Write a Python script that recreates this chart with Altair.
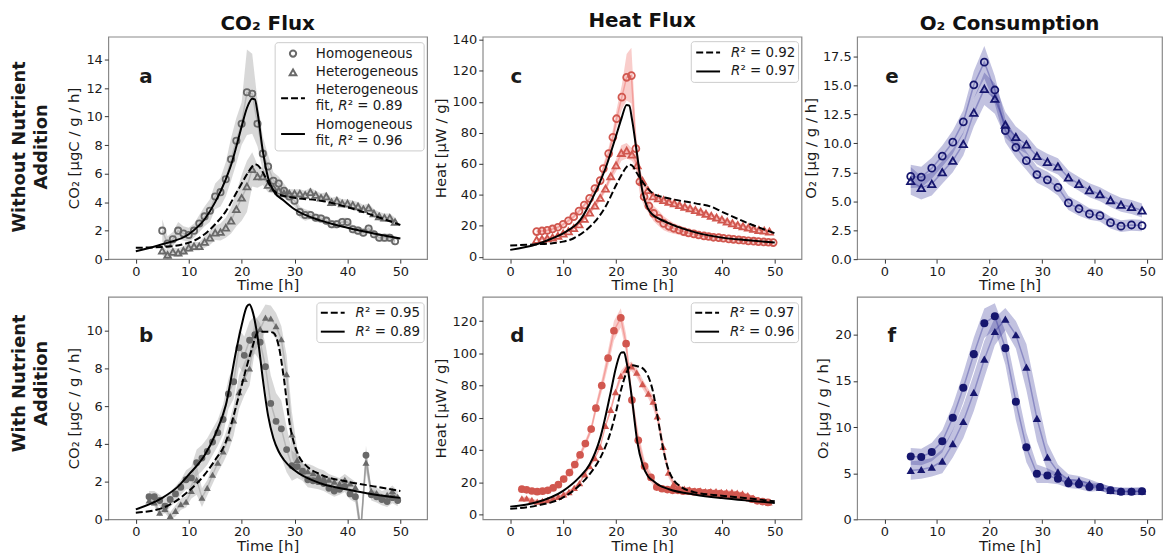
import altair as alt
import pandas as pd

FONT = "DejaVu Sans"

# ======================= DATA =======================
time_ticks = [0, 10, 20, 30, 40, 50]

# ---- (a) CO2 flux, without nutrient addition ----
a_time = [5, 6, 7, 8, 9, 10, 11, 12, 13, 14, 15, 16, 17, 18, 19, 20, 21, 22, 23, 24, 25, 26, 27,
          28, 29, 30, 31, 32, 33, 34, 35, 36, 37, 38, 39, 40, 41, 42, 43, 44, 45, 46, 47, 48, 49]
a_hom = [2.0, 1.1, 1.4, 2.0, 1.8, 1.7, 2.0, 2.5, 3.0, 3.4, 4.4, 4.7, 5.6, 7.0, 8.3, 9.5, 11.7, 11.6, 9.5,
         7.4, 6.5, 5.5, 5.3, 4.8, 4.4, 4.1, 3.3, 3.1, 3.1, 2.9, 2.85, 2.7, 2.45, 2.45, 2.6, 2.6, 2.1, 2.0,
         1.85, 2.15, 1.75, 1.5, 1.5, 1.5, 1.25]
a_hom_sd = [0.8, 0.5, 0.5, 0.6, 0.5, 0.5, 0.5, 0.6, 0.7, 0.8, 0.9, 1.0, 1.2, 1.5, 1.6, 1.5, 3.0, 2.8, 1.6,
            1.2, 0.8, 0.6, 0.5, 0.5, 0.4, 0.4, 0.4, 0.4, 0.3, 0.3, 0.3, 0.3, 0.3, 0.3, 0.3, 0.3, 0.3, 0.3,
            0.3, 0.3, 0.3, 0.3, 0.3, 0.3, 0.3]
a_het = [0.6, 0.3, 0.5, 0.45, 0.6, 0.8, 0.9, 0.9, 1.2, 1.5, 1.85, 1.9, 2.2, 2.7, 3.5, 4.3, 5.1, 6.3, 5.8,
         5.8, 5.2, 5.0, 4.8, 4.6, 4.6, 4.6, 4.6, 4.5, 4.7, 4.5, 4.3, 4.4, 4.0, 4.1, 3.9, 3.9, 3.8, 3.7,
         3.5, 3.6, 3.2, 3.0, 2.9, 2.9, 2.6]
a_het_sd = [0.3, 0.3, 0.3, 0.3, 0.3, 0.3, 0.3, 0.3, 0.4, 0.5, 0.5, 0.6, 0.7, 0.9, 1.2, 1.6, 1.8, 1.2, 0.8,
            0.6, 0.5, 0.4, 0.3, 0.3, 0.3, 0.3, 0.3, 0.3, 0.3, 0.3, 0.3, 0.3, 0.3, 0.3, 0.3, 0.3, 0.3, 0.3,
            0.3, 0.3, 0.3, 0.3, 0.3, 0.3, 0.3]
a_fit_hom_t = [0, 5, 10, 13, 15, 17, 18, 19, 20, 21, 22, 22.5, 23, 24, 25, 26, 28, 30, 35, 40, 45, 50]
a_fit_hom = [0.55, 1.05, 1.75, 2.8, 4.0, 5.6, 6.6, 7.9, 9.3, 10.6, 11.25, 11.2, 10.3, 7.6, 5.7, 4.8,
             4.1, 3.5, 2.7, 2.2, 1.8, 1.45]
a_fit_het_t = [0, 5, 10, 13, 15, 17, 19, 20, 21, 22, 22.5, 23, 24, 25, 26, 27, 30, 35, 40, 45, 50]
a_fit_het = [0.8, 0.85, 1.15, 1.75, 2.45, 3.35, 4.65, 5.3, 5.95, 6.5, 6.65, 6.6, 6.1, 5.4, 4.85, 4.55,
             4.3, 4.1, 3.65, 3.05, 2.4]

# ---- (c) Heat flux, without nutrient addition ----
c_hom_t = [5, 6, 7, 8, 9, 10, 11, 12, 13, 14, 15, 16, 17, 17.6, 18.6, 19.4, 20.1, 21.1, 22, 22.9, 23.75,
           24.5, 25.3, 26.2, 27.1, 28.1, 29.0, 30.0, 30.9, 31.9, 32.8, 33.7, 34.7, 35.6, 36.6, 37.5, 38.4,
           39.4, 40.3, 41.3, 42.2, 43.2, 44.1, 45.0, 46.0, 46.9, 47.9, 48.8, 49.7]
c_hom = [16.3, 16.7, 17.1, 18.0, 19.1, 21.0, 23.3, 25.9, 29.5, 33.4, 37.7, 44.1, 49.2, 56.9, 66.6, 77.1,
         89.1, 103, 115.8, 116.9, 69.8, 48.4, 38.8, 32.8, 28.0, 24.8, 21.6, 19.7, 18.4, 17.3, 16.3, 15.4,
         14.8, 14.1, 13.5, 13.1, 12.6, 12.4, 12.0, 11.6, 11.3, 10.9, 10.7, 10.3, 10.1, 9.8, 9.6, 9.4, 9.2]
c_hom_sd = [1.5, 1.5, 1.5, 1.5, 1.5, 1.5, 1.5, 1.5, 1.5, 1.5, 1.5, 2, 2, 3, 4, 5, 6, 8, 15, 18, 12, 8, 6,
            5, 5, 5, 4.5, 4, 3.5, 3, 3, 2.5, 2.5, 2.5, 2, 2, 2, 2, 1.5, 1.5, 1.5, 1.5, 1.5, 1.5, 1.5, 1.5,
            1.5, 1.5, 1.5]
c_het_t = [5, 6, 7, 8, 9, 10, 11, 12, 13, 14, 15, 16, 17, 18, 19, 20, 21, 22, 23, 24, 25, 26, 27,
           28, 29, 30, 31, 32, 33, 34, 35, 36, 37, 38, 39, 40, 41, 42, 43, 44, 45, 46, 47, 48, 49]
c_het = [11, 11.5, 12, 12.5, 13.5, 15, 16.5, 18.5, 21, 24.5, 28.5, 33, 38, 44, 52, 59, 67, 68.5, 66, 59,
         49, 43, 39, 37.7, 36.6, 35.5, 34.5, 33.4, 32.3, 31.3, 30.2, 29.1, 27.8, 26.5, 25.3, 24, 22.7,
         21.6, 20.5, 19.7, 18.8, 18, 17.3, 16.9, 16.3]
c_het_sd = [1, 1, 1, 1, 1, 1, 1, 1, 1, 1, 1.5, 1.5, 2, 2, 3, 4, 5, 5, 4, 3, 2.5, 2, 2, 1.5, 1.5, 1.5,
            1.5, 1.5, 1.5, 1.5, 1.5, 1.5, 1.5, 1.5, 1.5, 1.5, 1.5, 1.5, 1.5, 1.5, 1.5, 1.5, 1.5, 1.5, 1.5]
c_fit_hom_t = [0, 5, 8, 10, 12, 13, 15, 18, 20, 21, 22, 22.5, 23, 24, 25, 26, 27, 28, 30, 35, 40, 45, 50]
c_fit_hom = [4.5, 8.1, 12, 15.2, 19.5, 22.7, 34, 57, 78, 89, 98, 97.5, 89, 65.5, 42, 31.3, 27, 24.8,
             21.6, 15.8, 12.4, 10.7, 9.2]
c_fit_het_t = [0, 5, 8, 10, 12, 14, 16, 18, 20, 21, 22, 22.5, 23, 24, 25, 26, 27, 30, 35, 38, 40, 45, 50]
c_fit_het = [7.3, 8.1, 8.8, 9.8, 12, 16.3, 22.7, 32.3, 46.2, 52.7, 58, 59.5, 59, 53.7, 48.4, 44, 40.9,
             37.7, 34.5, 32.3, 29.1, 21.6, 15.2]

# ---- (e) O2 consumption, without nutrient addition ----
e_time = [5, 7, 9, 11, 13, 15, 17, 19, 21, 23, 25, 27, 29, 31, 33, 35, 37, 39, 41, 43, 45, 47, 49]
e_hom = [7.14, 7.08, 7.85, 8.9, 10.1, 11.85, 15.05, 17.0, 14.6, 11.1, 9.65, 8.5, 7.3, 6.85, 6.2, 4.85,
         4.35, 3.9, 3.75, 3.15, 2.85, 2.95, 2.9]
e_hom_sd = [1.0, 0.9, 0.9, 0.9, 1.0, 1.0, 1.2, 1.4, 1.2, 1.0, 0.9, 0.8, 0.7, 0.7, 0.7, 0.6, 0.6, 0.5,
            0.5, 0.5, 0.5, 0.5, 0.5]
e_het = [6.75, 6.15, 6.5, 7.5, 8.5, 9.95, 12.65, 14.7, 13.85, 11.6, 10.55, 9.9, 8.9, 8.4, 8.0, 7.05,
         6.5, 5.95, 5.6, 5.1, 4.7, 4.5, 4.2]
e_het_sd = [1.2, 1.0, 1.0, 1.0, 1.0, 1.0, 1.2, 1.4, 1.3, 1.1, 0.9, 0.8, 0.7, 0.7, 0.7, 0.6, 0.6, 0.6,
            0.6, 0.6, 0.6, 0.6, 0.6]

# ---- (b) CO2 flux, with nutrient addition ----
b_time = [2.5, 3.5, 4.5, 5.5, 6.5, 7.5, 8.5, 9.5, 10.5, 11.5, 12.5, 13.5, 14.5, 15.5, 16.5, 17.5,
          18.5, 19.5, 20.5, 21.5, 22.5, 23.5, 24.5, 25.5, 26.5, 27.5, 28.5, 29.5, 30.5, 31.5, 32.5,
          33.5, 34.5, 35.5, 36.5, 37.5, 38.5, 39.5, 40.5, 41.5, 42.5, 43.5, 44.5, 45.5, 46.5, 47.5,
          48.5, 49.5]
b_hom = [1.2, 1.2, 1.0, 0.7, 1.05, 1.35, 1.7, 2.1, 2.2, 3.0, 3.25, 3.6, 4.1, 4.6, 5.3, 6.65, 7.3, 9.1,
         8.7, 9.5, 9.8, 9.4, 8.1, 6.15, 5.2, 4.8, 3.7, 2.85, 2.8, 2.55, 2.1, 2.05, 2.0, 1.9, 1.65, 1.5,
         1.6, 1.75, 1.35, 1.2, -0.6, 3.4, 1.3, 1.2, 1.05, 0.95, 1.15, 1.0]
b_hom_sd = [0.3, 0.3, 0.3, 0.4, 0.4, 0.4, 0.4, 0.5, 0.6, 0.7, 0.7, 0.7, 0.7, 0.7, 0.8, 0.8, 0.9, 1.0,
            1.0, 1.0, 1.0, 1.0, 1.2, 1.5, 1.5, 1.5, 1.2, 0.8, 0.6, 0.5, 0.4, 0.4, 0.4, 0.4, 0.3, 0.3,
            0.3, 0.3, 0.3, 0.3, 0.5, 0.5, 0.3, 0.3, 0.3, 0.3, 0.3, 0.3]
b_het = [1.0, 0.9, 0.35, 0.55, 0.18, 0.45, 0.8, 0.93, 1.5, 2.1, 1.15, 1.67, 2.37, 3.0, 3.6, 4.3, 5.25,
         6.75, 7.45, 8.0, 9.75, 10.1, 10.7, 10.65, 10.25, 9.55, 7.7, 4.5, 3.15, 2.55, 2.55, 2.45, 2.3,
         2.2, 2.1, 2.0, 1.9, 2.1, 1.9, 1.7, -0.7, 3.0, 1.5, 1.4, 1.2, 1.3, 1.5, 1.2]
b_het_sd = [0.2, 0.2, 0.2, 0.2, 0.2, 0.3, 0.3, 0.3, 0.4, 0.8, 0.5, 0.4, 0.5, 0.5, 0.6, 0.7, 0.8, 0.9,
            0.9, 0.9, 0.8, 0.8, 0.7, 0.7, 0.7, 0.7, 1.0, 1.2, 0.6, 0.4, 0.4, 0.4, 0.4, 0.4, 0.3, 0.3,
            0.3, 0.3, 0.3, 0.3, 0.5, 0.5, 0.3, 0.3, 0.3, 0.3, 0.3, 0.3]
b_fit_hom_t = [0, 5, 8, 10, 13, 15, 17, 19, 20, 21, 21.5, 22, 23, 24, 25, 26, 27, 28, 30, 35, 40, 45, 50]
b_fit_hom = [0.53, 1.14, 1.75, 2.37, 3.4, 4.5, 6.05, 9.0, 10.3, 11.3, 11.4, 11.1, 9.7, 7.45, 5.5, 4.3,
             3.6, 3.15, 2.6, 1.9, 1.58, 1.32, 1.14]
b_fit_het_t = [0, 5, 10, 13, 15, 17, 19, 20, 21, 22, 23, 24, 25, 26, 27, 28, 29, 30, 31, 32, 35, 40,
               45, 50]
b_fit_het = [0.35, 0.6, 1.5, 2.37, 3.15, 4.1, 6.05, 7.1, 8.15, 9.1, 9.9, 9.95, 9.95, 9.9, 9.2, 7.45,
             5.2, 3.95, 3.25, 2.9, 2.37, 2.0, 1.75, 1.5]

# ---- (d) Heat flux, with nutrient addition ----
d_hom_t = [2.2, 3.1, 4.1, 5.1, 6.1, 7.1, 8.1, 9.1, 10.1, 11.2, 12.2, 13.2, 14.2, 15.3, 16.2, 17.3,
           18.5, 19.6, 20.9, 21.9, 23.0, 24.2, 25.4, 26.6, 27.7, 28.7, 29.7, 30.7, 31.7, 32.7, 33.7,
           34.7, 35.7, 36.7, 37.7, 38.7, 39.7, 40.7, 41.7, 42.7, 43.7, 44.7, 45.7, 46.7, 47.7, 48.7]
d_hom = [15.7, 15.3, 14.6, 14.2, 14.5, 15, 16.5, 18.5, 22, 26, 31, 37, 44, 53, 66, 80, 97, 114, 122,
         106, 71, 46, 30, 23, 17, 16, 15.5, 15, 15, 14.5, 14.5, 14, 14, 13.5, 13.5, 13, 13, 12.5, 12,
         12, 11.5, 10.5, 9.5, 8.5, 8, 7.5]
d_hom_sd = [1, 1, 1, 1, 1, 1, 1, 1, 1, 1.5, 1.5, 2, 2, 2.5, 3, 4, 5, 6, 6, 6, 6, 5, 4, 3, 2, 1.2, 1.2,
            1.2, 1.2, 1.2, 1.2, 1.2, 1.2, 1.2, 1.2, 1.2, 1.2, 1.2, 1.2, 1.2, 1.2, 1.2, 1.2, 1.2, 1.2,
            1.2]
d_het_t = [2.2, 3.1, 4.1, 5.1, 6.1, 7.1, 8.1, 9.1, 10.1, 11.1, 12.1, 13.1, 14.1, 15.0, 16.0, 17.0,
           18.0, 19.0, 19.9, 20.9, 21.9, 22.9, 23.9, 25.0, 26.1, 27.0, 27.8, 28.9, 29.9, 30.9, 31.9,
           32.9, 33.9, 34.9, 35.9, 36.9, 37.9, 38.9, 39.9, 40.9, 41.9, 42.9, 43.9, 44.9, 45.9, 46.9,
           47.9, 48.9]
d_het = [10, 10, 9, 8, 8.5, 9, 10, 11, 12.5, 14, 16.5, 19.5, 25, 30, 35, 42, 55, 65, 76, 86, 90, 92,
         88, 81, 75, 70, 61, 42, 26, 19, 17, 16, 15.5, 15, 15, 14.5, 14.5, 14.5, 14, 14, 14, 13.5, 13,
         12, 10.5, 9, 8, 7.5]
d_het_sd = [1, 1, 1, 1, 1, 1, 1, 1, 1, 1, 1, 1, 1, 1, 1, 1, 1, 2, 2, 3, 3, 3, 3, 3, 3, 4, 4, 4, 3, 2,
            1, 1, 1, 1, 1, 1, 1, 1, 1, 1, 1, 1, 1, 1, 1, 1, 1, 1]
d_fit_hom_t = [0, 5, 10, 13, 15, 17, 19, 20, 21, 21.5, 22, 23, 24, 25, 26, 27, 28, 30, 35, 40, 45, 50]
d_fit_hom = [4.9, 7.6, 14.7, 22.9, 31, 47.4, 76, 91.4, 100.5, 100.6, 94.4, 72, 45.4, 31, 23.9, 20.9,
             18.4, 15.7, 12.3, 10.2, 8.6, 7.2]
d_fit_het_t = [0, 5, 10, 13, 15, 17, 19, 20, 21, 22, 23, 24, 25, 26, 27, 28, 29, 30, 31, 32, 35, 40,
               45, 50]
d_fit_het = [3.5, 5.5, 10.6, 17.8, 25, 35, 51.5, 63.8, 78, 88.3, 92.6, 92, 90.8, 86.3, 76, 57.6, 39.2,
             27, 20.9, 17.8, 13.7, 11.7, 10, 8.2]

# ---- (f) O2 consumption, with nutrient addition ----
f_time = [5, 7, 9, 11, 13, 15, 17, 19, 21, 23, 25, 27, 29, 31, 33, 35, 37, 39, 41, 43, 45, 47, 49]
f_hom = [6.82, 6.75, 7.3, 8.45, 11.0, 14.25, 17.9, 21.25, 22.0, 18.55, 12.75, 7.8, 4.95, 4.75, 4.4,
         3.9, 3.8, 3.5, 3.5, 3.15, 3.0, 3.0, 3.05]
f_hom_sd = [0.9, 0.9, 1.0, 1.2, 1.4, 1.6, 1.8, 1.6, 1.4, 1.8, 2.0, 1.6, 1.0, 0.8, 0.6, 0.5, 0.5, 0.5,
            0.4, 0.4, 0.4, 0.4, 0.4]
f_het = [5.3, 5.4, 5.65, 6.3, 8.2, 10.6, 13.75, 17.35, 20.35, 21.7, 20.0, 16.5, 10.95, 6.75, 5.15,
         4.3, 4.2, 3.85, 3.5, 3.15, 3.05, 3.05, 3.05]
f_het_sd = [1.0, 1.0, 1.0, 1.3, 1.5, 1.8, 2.0, 2.0, 1.5, 1.2, 1.5, 2.5, 2.5, 1.5, 0.8, 0.6, 0.5, 0.5,
            0.4, 0.4, 0.4, 0.4, 0.4]

# ======================= STYLE =======================
GRAY_MK, GRAY_BAND = "#696969", "#7f7f7f"
RED_MK, RED_BAND = "#d1574f", "#ea4a44"
NAVY_MK, NAVY_BAND = "#16166e", "#25258f"
TXT = "#1a1a1a"
LEG = 13.5


def one():
    return pd.DataFrame({"k": [0]})


def text_layer(x, y, s, size=LEG, weight="normal", style="normal", align="left", angle=0):
    return alt.Chart(one()).mark_text(
        font=FONT, fontSize=size, fontWeight=weight, fontStyle=style, align=align,
        baseline="middle", angle=angle, color=TXT
    ).encode(x=alt.value(x), y=alt.value(y), text=alt.value(s))


def legend_rect(x1, x2, y1, y2):
    return alt.Chart(one()).mark_rect(
        fill="white", fillOpacity=0.85, stroke="#cccccc", strokeWidth=1, cornerRadius=3
    ).encode(x=alt.value(x1), x2=alt.value(x2), y=alt.value(y1), y2=alt.value(y2))


def legend_line(x1, x2, y, dashed):
    kw = dict(color="black", strokeWidth=2)
    if dashed:
        kw["strokeDash"] = [7, 3]
    return alt.Chart(one()).mark_rule(**kw).encode(
        x=alt.value(x1), x2=alt.value(x2), y=alt.value(y))


def legend_marker(x, y, shape, color, size):
    return alt.Chart(one()).mark_point(
        shape=shape, filled=False, size=size, color=color, strokeWidth=2, opacity=1
    ).encode(x=alt.value(x), y=alt.value(y))


def r2_entry(x, y, value, prefix=""):
    layers = []
    xx = x
    if prefix:
        layers.append(text_layer(xx, y, prefix))
        xx += 22.5
    layers.append(text_layer(xx, y, "R", style="italic"))
    layers.append(text_layer(xx + 9.5, y, "² = " + value))
    return layers


def panel(width, xdom, ydom, yticks, yfmt, ytitle, series, fits, extra, title=None):
    xs = alt.Scale(domain=xdom, nice=False, zero=False)
    ys = alt.Scale(domain=ydom, nice=False, zero=False)
    common = dict(grid=False, domain=False, tickSize=4, tickColor="#333", tickWidth=1,
                  labelFontSize=13, titleFontSize=15, labelFont=FONT, titleFont=FONT,
                  labelColor=TXT, titleColor=TXT, titleFontWeight="normal", labelPadding=2)
    xax = alt.Axis(values=time_ticks, title="Time [h]", labelFlush=False, titlePadding=0, **common)
    yax = alt.Axis(values=yticks, format=yfmt, title=ytitle, titlePadding=4, **common)
    X = alt.X("t:Q", scale=xs, axis=xax)

    bands, means, pts = [], [], []
    for s in series:
        df = pd.DataFrame({"t": s["t"], "v": s["v"], "sd": s["sd"]})
        df["lo"] = df["v"] - df["sd"]
        df["hi"] = df["v"] + df["sd"]
        bands.append(alt.Chart(df).mark_area(color=s["band"], opacity=s["bop"], clip=True).encode(
            x=X, y=alt.Y("lo:Q", scale=ys, axis=yax), y2="hi:Q"))
        means.append(alt.Chart(df).mark_line(color=s["band"], opacity=0.35, strokeWidth=1.5,
                                             clip=True).encode(
            x=X, y=alt.Y("v:Q", scale=ys, axis=yax)))
        pts.append(alt.Chart(df).mark_point(
            shape=s["shape"], filled=s["filled"], size=s["size"], color=s["color"],
            strokeWidth=1.8, opacity=1, clip=True).encode(
            x=X, y=alt.Y("v:Q", scale=ys, axis=yax)))
    fl = []
    for f in fits:
        df = pd.DataFrame({"t": f["t"], "v": f["v"]})
        kw = dict(color="black", strokeWidth=2, interpolate="monotone", clip=True)
        if f["dashed"]:
            kw["strokeDash"] = [7, 3]
        fl.append(alt.Chart(df).mark_line(**kw).encode(
            x=X, y=alt.Y("v:Q", scale=ys, axis=yax)))
    ch = alt.layer(*(bands + means + pts + fl + extra)).properties(width=width, height=224)
    if title is not None:
        ch = ch.properties(title=alt.TitleParams(
            text=title, font=FONT, fontSize=20, fontWeight="bold", color="#111",
            anchor="middle", frame="group", offset=3))
    return ch


def ser(t, v, sd, shape, filled, color, band, bop, size):
    return dict(t=t, v=v, sd=sd, shape=shape, filled=filled, color=color, band=band, bop=bop, size=size)


XD = [-5.2, 55.05]
XD_E = [-5.2, 52.8]
W, W_E = 321, 307

# ---------- panel a ----------
a_extra = [
    legend_rect(168, 318, 6, 115),
    legend_marker(186, 17, "circle", GRAY_MK, 40),
    legend_marker(186, 36, "triangle-up", GRAY_MK, 45),
    legend_line(174, 198, 62, True),
    legend_line(174, 198, 98, False),
    text_layer(209, 17, "Homogeneous"),
    text_layer(209, 36, "Heterogeneous"),
    text_layer(209, 54, "Heterogeneous"),
    text_layer(209, 89, "Homogeneous"),
] + r2_entry(209, 70, "0.89", "fit,") + r2_entry(209, 105, "0.96", "fit,") + [
    text_layer(38, 41, "a", size=20, weight="bold", align="center"),
    text_layer(-89, 111, "Without Nutrient", size=18, weight="bold", align="center", angle=270),
    text_layer(-67, 111, "Addition", size=18, weight="bold", align="center", angle=270),
]
pa = panel(W, XD, [0, 15.6], [0, 2, 4, 6, 8, 10, 12, 14], "d", "CO₂ [μgC / g / h]",
           [ser(a_time, a_hom, a_hom_sd, "circle", False, GRAY_MK, GRAY_BAND, 0.3, 40),
            ser(a_time, a_het, a_het_sd, "triangle-up", False, GRAY_MK, GRAY_BAND, 0.3, 45)],
           [dict(t=a_fit_het_t, v=a_fit_het, dashed=True),
            dict(t=a_fit_hom_t, v=a_fit_hom, dashed=False)],
           a_extra, title="CO₂ Flux")

# ---------- panel c ----------
c_extra = [legend_rect(210, 318, 5, 46), legend_line(215, 239, 16, True),
           legend_line(215, 239, 35, False)] + r2_entry(250, 16, "0.92") + r2_entry(250, 35, "0.97") + [
    text_layer(34, 41, "c", size=20, weight="bold", align="center")]
pc = panel(W, XD, [-1.5, 142], [0, 20, 40, 60, 80, 100, 120, 140], "d", "Heat [μW / g]",
           [ser(c_hom_t, c_hom, c_hom_sd, "circle", False, RED_MK, RED_BAND, 0.28, 48),
            ser(c_het_t, c_het, c_het_sd, "triangle-up", False, RED_MK, RED_BAND, 0.28, 50)],
           [dict(t=c_fit_het_t, v=c_fit_het, dashed=True),
            dict(t=c_fit_hom_t, v=c_fit_hom, dashed=False)],
           c_extra, title="Heat Flux")

# ---------- panel e ----------
e_extra = [text_layer(35, 41, "e", size=20, weight="bold", align="center")]
pe = panel(W_E, XD_E, [0, 19.2], [0, 2.5, 5, 7.5, 10, 12.5, 15, 17.5], ".1f", "O₂ [μg / g / h]",
           [ser(e_time, e_hom, e_hom_sd, "circle", False, NAVY_MK, NAVY_BAND, 0.28, 50),
            ser(e_time, e_het, e_het_sd, "triangle-up", False, NAVY_MK, NAVY_BAND, 0.28, 55)],
           [], e_extra, title="O₂ Consumption")

# ---------- panel b ----------
b_extra = [legend_rect(210, 318, 6, 46), legend_line(214, 238, 16, True),
           legend_line(214, 238, 35, False)] + r2_entry(249, 16, "0.95") + r2_entry(249, 35, "0.89") + [
    text_layer(38, 39, "b", size=20, weight="bold", align="center"),
    text_layer(-89, 87, "With Nutrient", size=18, weight="bold", align="center", angle=270),
    text_layer(-67, 87, "Addition", size=18, weight="bold", align="center", angle=270),
]
pb = panel(W, XD, [0, 11.8], [0, 2, 4, 6, 8, 10], "d", "CO₂ [μgC / g / h]",
           [ser(b_time, b_hom, b_hom_sd, "circle", True, GRAY_MK, GRAY_BAND, 0.3, 48),
            ser(b_time, b_het, b_het_sd, "triangle-up", True, GRAY_MK, GRAY_BAND, 0.3, 50)],
           [dict(t=b_fit_het_t, v=b_fit_het, dashed=True),
            dict(t=b_fit_hom_t, v=b_fit_hom, dashed=False)],
           b_extra)

# ---------- panel d ----------
d_extra = [legend_rect(210, 318, 6, 46), legend_line(214, 238, 16, True),
           legend_line(214, 238, 35, False)] + r2_entry(249, 16, "0.97") + r2_entry(249, 35, "0.96") + [
    text_layer(35, 39, "d", size=20, weight="bold", align="center")]
pd_ = panel(W, XD, [-3, 135], [0, 20, 40, 60, 80, 100, 120], "d", "Heat [μW / g]",
            [ser(d_hom_t, d_hom, d_hom_sd, "circle", True, RED_MK, RED_BAND, 0.28, 60),
             ser(d_het_t, d_het, d_het_sd, "triangle-up", True, RED_MK, RED_BAND, 0.28, 55)],
            [dict(t=d_fit_het_t, v=d_fit_het, dashed=True),
             dict(t=d_fit_hom_t, v=d_fit_hom, dashed=False)],
            d_extra)

# ---------- panel f ----------
f_extra = [text_layer(35, 39, "f", size=20, weight="bold", align="center")]
pf = panel(W_E, XD_E, [0, 24.1], [0, 5, 10, 15, 20], "d", "O₂ [μg / g / h]",
           [ser(f_time, f_hom, f_hom_sd, "circle", True, NAVY_MK, NAVY_BAND, 0.28, 65),
            ser(f_time, f_het, f_het_sd, "triangle-up", True, NAVY_MK, NAVY_BAND, 0.28, 70)],
           [], f_extra)

chart = alt.concat(pa, pc, pe, pb, pd_, pf, columns=3, bounds="flush",
                   spacing={"row": 38, "column": 56}).properties(
    padding={"left": 2, "top": 0, "right": 0, "bottom": 0},
).configure_view(stroke="#8a8a8a", strokeWidth=1.2)

chart.save("out.html", embed_options={"renderer": "svg", "actions": False})
